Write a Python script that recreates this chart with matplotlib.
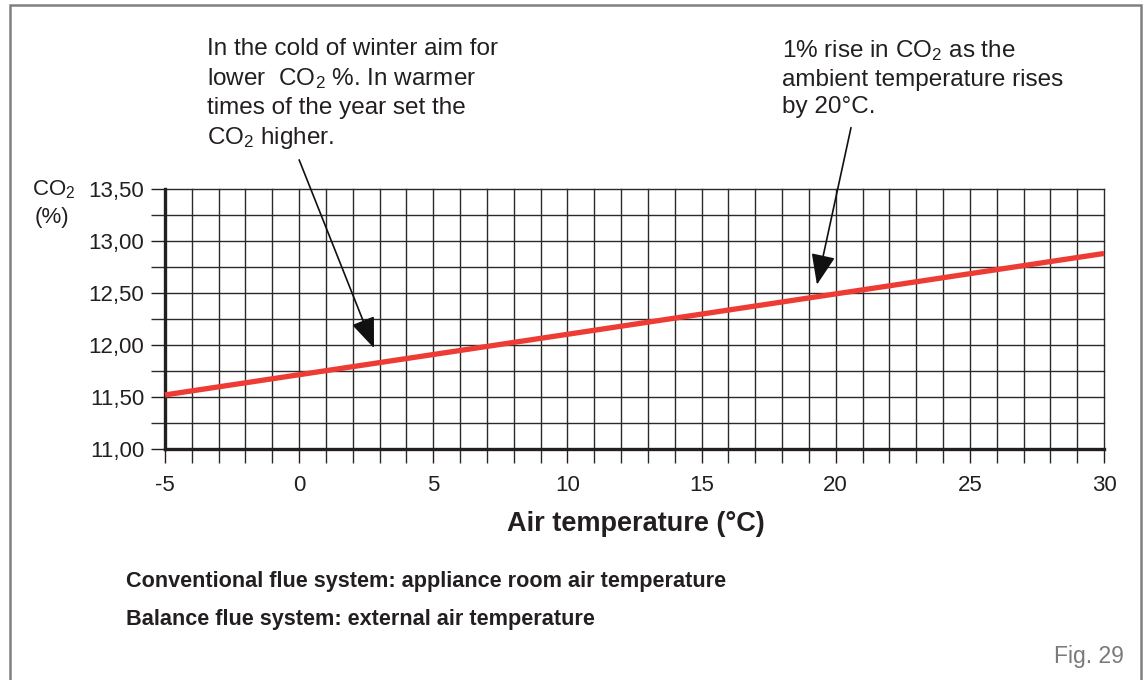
import matplotlib
matplotlib.use("Agg")
import matplotlib.pyplot as plt
from matplotlib.patches import Rectangle
import numpy as np

plt.rcParams['font.family'] = ['Liberation Sans', 'DejaVu Sans']
plt.rcParams['mathtext.fontset'] = 'custom'
plt.rcParams['mathtext.rm'] = 'Liberation Sans'
plt.rcParams['mathtext.it'] = 'Liberation Sans:italic'
plt.rcParams['mathtext.bf'] = 'Liberation Sans:bold'

# ---- data ----
temperature = [-5, 30]
co2 = [11.52, 12.88]
x_ticks = [-5, 0, 5, 10, 15, 20, 25, 30]
y_ticks = [11.00, 11.50, 12.00, 12.50, 13.00, 13.50]
y_tick_labels = ["11,00", "11,50", "12,00", "12,50", "13,00", "13,50"]
arrow1_tail = (0.0, 13.78)
arrow1_tip = (2.79, 11.97)
arrow2_tail = (20.57, 14.09)
arrow2_tip = (19.30, 12.58)

W, H = 1146, 680
fig = plt.figure(figsize=(W / 100, H / 100), dpi=100)
fig.patch.set_facecolor('white')

def fx(px):
    return px / W

def fy(py):
    return 1 - py / H

ax = fig.add_axes([fx(165), fy(449), fx(1104) - fx(165), fy(189) - fy(449)])
ax.set_xlim(-5, 30)
ax.set_ylim(11.0, 13.5)

gridc = '#2a2a2a'
for xv in np.arange(-4, 31, 1):
    ax.axvline(xv, color=gridc, lw=1.0, clip_on=False, zorder=1)
for yv in np.arange(11.25, 13.51, 0.25):
    ax.axhline(yv, color=gridc, lw=1.0, clip_on=False, zorder=1)

for s in ['top', 'right']:
    ax.spines[s].set_visible(False)
for s in ['left', 'bottom']:
    ax.spines[s].set_linewidth(2.4)
    ax.spines[s].set_color('#231f20')
    ax.spines[s].set_zorder(3)

ax.set_xticks(x_ticks)
ax.set_xticklabels([str(v) for v in x_ticks])
ax.set_xticks(np.arange(-5, 31, 1), minor=True)
ax.set_yticks(y_ticks)
ax.set_yticklabels(y_tick_labels)
ax.set_yticks(np.arange(11.0, 13.51, 0.25), minor=True)
ax.tick_params(axis='both', which='both', length=10, width=1.0, color=gridc,
               direction='out')
ax.tick_params(axis='x', which='major', labelsize=16, pad=9, colors='#231f20')
ax.tick_params(axis='y', which='major', labelsize=16, pad=5, colors='#231f20')

ax.plot(temperature, co2, color='#ee3b34', lw=3.8, solid_capstyle='butt',
        zorder=4, clip_on=False)

# arrows
for tail, tip in [(arrow1_tail, arrow1_tip), (arrow2_tail, arrow2_tip)]:
    ax.annotate('', xy=tip, xytext=tail, xycoords='data', textcoords='data',
                annotation_clip=False,
                arrowprops=dict(arrowstyle='-|>,head_length=1.9,head_width=0.75',
                                color='#111111', lw=1.2, shrinkA=0, shrinkB=0,
                                mutation_scale=10),
                zorder=5)

txtc = '#231f20'
fig.text(fx(207), fy(38), "In the cold of winter aim for\n"
         "lower  CO$_{\\mathrm{2}}$ %. In warmer\n"
         "times of the year set the\n"
         "CO$_{\\mathrm{2}}$ higher.",
         ha='left', va='top', fontsize=17.5, color=txtc, linespacing=1.33)
fig.text(fx(782), fy(38), "1% rise in CO$_{\\mathrm{2}}$ as the\n"
         "ambient temperature rises\n"
         "by 20°C.",
         ha='left', va='top', fontsize=17.5, color=txtc, linespacing=1.33)

fig.text(fx(32), fy(190), "CO$_{\\mathrm{2}}$", ha='left', va='center',
         fontsize=16, color=txtc)
fig.text(fx(35), fy(218), "(%)", ha='left', va='center', fontsize=16, color=txtc)

fig.text(fx(636), fy(524), "Air temperature (°C)", ha='center', va='center',
         fontsize=19.5, fontweight='bold', color=txtc)
fig.text(fx(126), fy(582), "Conventional flue system: appliance room air temperature",
         ha='left', va='center', fontsize=15.6, fontweight='bold', color=txtc)
fig.text(fx(126), fy(619), "Balance flue system: external air temperature",
         ha='left', va='center', fontsize=15.6, fontweight='bold', color=txtc)
fig.text(fx(1124), fy(656), "Fig. 29", ha='right', va='center', fontsize=16.5,
         color='#7a7a7a')

# frame
fig.add_artist(Rectangle((fx(10), fy(700)), fx(1141) - fx(10), fy(5) - fy(700),
                         transform=fig.transFigure, fill=False,
                         edgecolor='#808080', lw=1.8, clip_on=False))

fig.savefig('out.png', dpi=100, facecolor='white')
